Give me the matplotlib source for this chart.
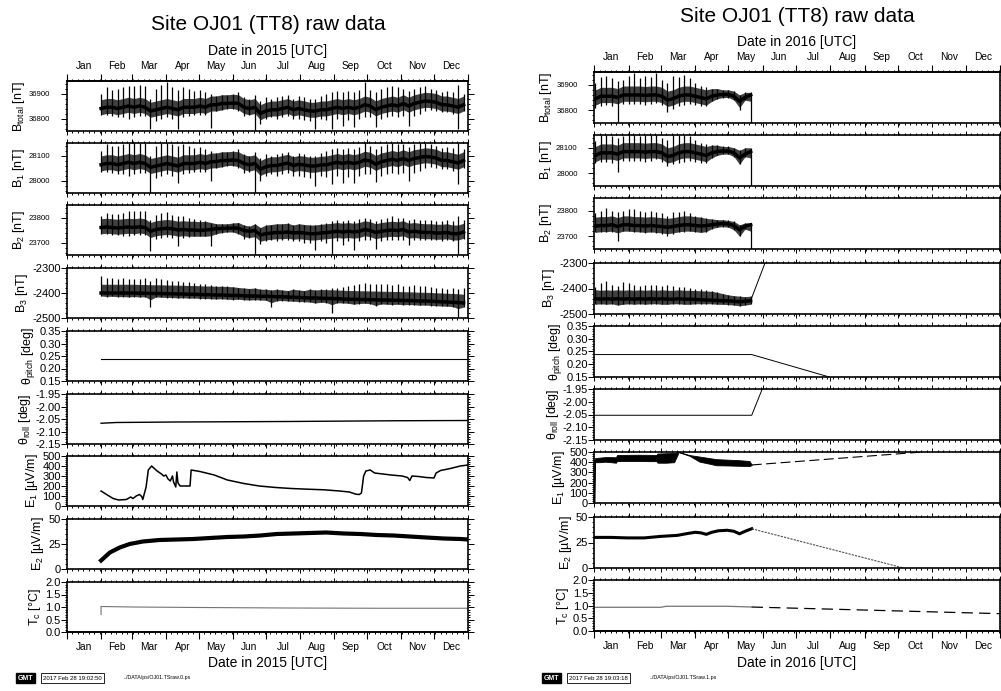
import numpy as np
import matplotlib
matplotlib.use('Agg')
import matplotlib.pyplot as plt
from matplotlib.ticker import MultipleLocator, FixedLocator, FormatStrFormatter

plt.rcParams['font.family'] = ['Liberation Sans', 'DejaVu Sans']
plt.rcParams['mathtext.default'] = 'regular'
plt.rcParams['axes.linewidth'] = 1.2

# ---------------- data: 2015 (day of year, Jan 1 = 0) ----------------
days15 = np.arange(31, 362, 5)

btot15_mid = [36840, 36845, 36845, 36840, 36845, 36850, 36845, 36850, 36845, 36830,
              36835, 36840, 36845, 36840, 36835, 36845, 36845, 36845, 36850, 36845,
              36855, 36855, 36860, 36860, 36862, 36860, 36845, 36840, 36845, 36820,
              36830, 36835, 36835, 36840, 36845, 36835, 36840, 36835, 36830, 36830,
              36835, 36835, 36840, 36845, 36840, 36845, 36840, 36845, 36855, 36850,
              36835, 36845, 36850, 36855, 36850, 36860, 36850, 36860, 36865, 36870,
              36868, 36865, 36855, 36855, 36850, 36845, 36855]
btot15_top = [36900, 36925, 36915, 36920, 36925, 36930, 36930, 36935, 36930, 36880,
              36920, 36935, 36945, 36925, 36915, 36925, 36920, 36910, 36915, 36905,
              36900, 36890, 36895, 36895, 36900, 36905, 36885, 36880, 36895, 36870,
              36885, 36880, 36885, 36890, 36895, 36880, 36890, 36885, 36880, 36880,
              36890, 36900, 36905, 36910, 36905, 36910, 36905, 36915, 36945, 36915,
              36905, 36920, 36925, 36930, 36925, 36920, 36910, 36920, 36925, 36930,
              36920, 36915, 36905, 36910, 36905, 36935, 36900]
btot15_bot = [36815, 36815, 36810, 36805, 36805, 36800, 36805, 36810, 36810, 36760,
              36790, 36800, 36805, 36800, 36760, 36805, 36810, 36815, 36815, 36815,
              36762, 36830, 36835, 36840, 36840, 36830, 36810, 36815, 36755, 36780,
              36800, 36805, 36800, 36805, 36810, 36800, 36800, 36795, 36790, 36760,
              36800, 36795, 36760, 36800, 36770, 36795, 36765, 36800, 36805, 36805,
              36765, 36800, 36805, 36810, 36805, 36810, 36770, 36810, 36820, 36830,
              36835, 36830, 36825, 36825, 36820, 36760, 36830]

b1_15_mid = [28063, 28068, 28068, 28063, 28068, 28073, 28068, 28073, 28068, 28053,
             28058, 28063, 28068, 28063, 28058, 28068, 28068, 28068, 28073, 28068,
             28075, 28076, 28080, 28080, 28082, 28080, 28068, 28063, 28068, 28045,
             28055, 28060, 28060, 28065, 28070, 28060, 28065, 28062, 28058, 28058,
             28062, 28063, 28068, 28073, 28068, 28073, 28068, 28073, 28082, 28078,
             28065, 28075, 28080, 28085, 28080, 28088, 28080, 28088, 28092, 28096,
             28094, 28090, 28080, 28080, 28075, 28070, 28080]
b1_15_top = [28120, 28145, 28140, 28140, 28145, 28150, 28150, 28150, 28150, 28100,
             28140, 28150, 28150, 28145, 28140, 28145, 28140, 28130, 28135, 28125,
             28120, 28110, 28115, 28115, 28120, 28125, 28105, 28100, 28115, 28090,
             28105, 28100, 28105, 28110, 28115, 28100, 28110, 28105, 28100, 28100,
             28110, 28120, 28125, 28130, 28125, 28130, 28125, 28135, 28150, 28140,
             28125, 28140, 28145, 28150, 28145, 28145, 28135, 28145, 28150, 28150,
             28145, 28140, 28130, 28135, 28130, 28150, 28125]
b1_15_bot = [28035, 28035, 28030, 28025, 28025, 28020, 28025, 28030, 28030, 27950,
             28010, 28020, 28025, 28020, 27990, 28025, 28030, 28035, 28035, 28035,
             28000, 28050, 28055, 28060, 28060, 28050, 28030, 28035, 27950, 28000,
             28020, 28025, 28020, 28025, 28030, 28020, 28020, 28015, 28010, 27980,
             28020, 28015, 27985, 28020, 27990, 28015, 27990, 28020, 28025, 28025,
             27995, 28020, 28025, 28030, 28025, 28030, 28000, 28030, 28040, 28050,
             28055, 28050, 28045, 28045, 28040, 27985, 28050]

b2_15_mid = [23760, 23762, 23760, 23758, 23760, 23762, 23760, 23763, 23760, 23745,
             23752, 23755, 23757, 23755, 23750, 23752, 23750, 23750, 23748, 23750,
             23752, 23755, 23756, 23757, 23758, 23757, 23748, 23745, 23748, 23730,
             23735, 23738, 23740, 23740, 23742, 23738, 23740, 23738, 23735, 23735,
             23738, 23740, 23742, 23745, 23742, 23745, 23742, 23745, 23752, 23748,
             23740, 23745, 23748, 23750, 23748, 23752, 23742, 23745, 23742, 23740,
             23740, 23738, 23738, 23740, 23735, 23735, 23742]
b2_15_top = [23805, 23820, 23815, 23815, 23820, 23825, 23825, 23828, 23825, 23790,
             23810, 23820, 23822, 23810, 23805, 23805, 23800, 23795, 23790, 23785,
             23780, 23775, 23775, 23775, 23778, 23780, 23770, 23765, 23775, 23760,
             23770, 23772, 23775, 23775, 23778, 23770, 23775, 23772, 23770, 23770,
             23775, 23780, 23785, 23790, 23785, 23790, 23785, 23795, 23800, 23795,
             23785, 23795, 23800, 23805, 23800, 23800, 23790, 23795, 23790, 23790,
             23790, 23785, 23785, 23790, 23785, 23805, 23790]
b2_15_bot = [23735, 23735, 23730, 23730, 23728, 23725, 23730, 23730, 23730, 23665,
             23715, 23720, 23722, 23720, 23685, 23720, 23722, 23725, 23725, 23725,
             23685, 23735, 23740, 23742, 23742, 23735, 23715, 23720, 23648, 23695,
             23705, 23710, 23708, 23710, 23712, 23705, 23705, 23700, 23700, 23670,
             23705, 23700, 23648, 23705, 23690, 23705, 23670, 23705, 23710, 23710,
             23675, 23705, 23710, 23712, 23710, 23712, 23690, 23712, 23712, 23712,
             23712, 23710, 23708, 23710, 23705, 23650, 23715]

b3_15_mid = [-2400, -2400, -2400, -2400, -2400, -2400, -2400, -2401, -2401, -2402,
             -2402, -2402, -2403, -2403, -2404, -2404, -2405, -2405, -2406, -2407,
             -2407, -2408, -2408, -2409, -2410, -2410, -2411, -2412, -2412, -2413,
             -2413, -2414, -2415, -2415, -2416, -2417, -2418, -2419, -2420, -2420,
             -2421, -2422, -2422, -2423, -2424, -2425, -2425, -2426, -2426, -2427,
             -2427, -2428, -2428, -2429, -2429, -2430, -2430, -2431, -2432, -2432,
             -2433, -2434, -2435, -2436, -2437, -2438, -2440]
b3_15_top = [-2330, -2340, -2338, -2342, -2340, -2345, -2342, -2345, -2340, -2350,
             -2340, -2345, -2348, -2350, -2352, -2355, -2355, -2360, -2362, -2365,
             -2368, -2370, -2372, -2372, -2375, -2378, -2380, -2382, -2380, -2385,
             -2385, -2388, -2385, -2388, -2390, -2385, -2388, -2390, -2385, -2388,
             -2385, -2382, -2380, -2378, -2375, -2370, -2368, -2365, -2360, -2362,
             -2365, -2362, -2365, -2368, -2365, -2370, -2372, -2368, -2370, -2372,
             -2375, -2378, -2380, -2382, -2380, -2385, -2380]
b3_15_bot = [-2412, -2414, -2413, -2415, -2414, -2416, -2414, -2416, -2415, -2455,
             -2416, -2417, -2418, -2418, -2420, -2419, -2421, -2420, -2422, -2422,
             -2423, -2424, -2423, -2425, -2426, -2425, -2427, -2428, -2427, -2428,
             -2429, -2455, -2431, -2430, -2432, -2433, -2434, -2435, -2436, -2440,
             -2437, -2438, -2480, -2439, -2440, -2441, -2445, -2442, -2441, -2443,
             -2450, -2444, -2445, -2446, -2445, -2447, -2446, -2447, -2449, -2448,
             -2450, -2451, -2452, -2453, -2454, -2500, -2456]

pitch15_days = [31, 365]
pitch15 = [0.238, 0.238]
roll15_days = [31, 45, 100, 200, 300, 365]
roll15 = [-2.067, -2.064, -2.062, -2.060, -2.057, -2.056]

e1_15_days = [31, 36, 42, 47, 54, 58, 60, 63, 66, 68, 69, 72, 74, 77, 80, 82, 86, 88, 90, 92,
              94, 96, 97, 99, 100, 101, 103, 108, 112, 113, 121, 134, 146, 161, 175, 190, 204,
              219, 234, 248, 257, 263, 266, 268, 270, 272, 276, 280, 295, 305, 310, 312, 314,
              320, 327, 334, 336, 340, 349, 358, 365]
e1_15 = [150, 115, 75, 60, 65, 90, 75, 100, 115, 95, 65, 190, 360, 400, 370, 350, 320, 300, 310, 270,
         250, 300, 240, 190, 340, 230, 200, 200, 200, 360, 345, 310, 260, 225, 200, 185, 175,
         168, 162, 150, 140, 118, 115, 130, 300, 350, 360, 330, 310, 300, 285, 255, 300,
         295, 285, 280, 330, 355, 375, 400, 410]

e2_15_days = [31, 39, 48, 57, 69, 84, 100, 115, 130, 146, 161, 176, 191, 206, 221, 236, 252,
              267, 282, 297, 312, 327, 343, 358, 365]
e2_15 = [8.5, 16.5, 21.5, 25, 27.5, 29, 29.5, 30, 31, 32, 32.5, 33.5, 35, 35.5, 36, 36.5, 35.5,
         35, 34, 33.5, 32.5, 31.5, 30.5, 30, 29.5]

tc15_days = [31, 31, 60, 120, 200, 280, 365]
tc15 = [0.7, 1.02, 1.0, 0.98, 0.96, 0.95, 0.95]

# ---------------- data: 2016 ----------------
days16 = np.arange(1, 142, 5)

btot16_mid = [36845, 36855, 36855, 36855, 36850, 36860, 36860, 36860, 36860, 36858, 36860, 36860,
              36855, 36840, 36845, 36855, 36860, 36860, 36855, 36850, 36845, 36855, 36860, 36862,
              36862, 36855, 36835, 36850, 36860]
btot16_top = [36905, 36930, 36935, 36925, 36915, 36920, 36935, 36945, 36925, 36935, 36930, 36945,
              36920, 36905, 36935, 36930, 36940, 36925, 36905, 36895, 36890, 36885, 36885, 36880,
              36880, 36875, 36860, 36870, 36870]
btot16_bot = [36810, 36815, 36820, 36815, 36755, 36825, 36825, 36825, 36825, 36820, 36825, 36830,
              36820, 36795, 36805, 36815, 36820, 36825, 36820, 36815, 36815, 36835, 36845, 36850,
              36850, 36840, 36800, 36840, 36700]

b1_16_mid = [28070, 28080, 28080, 28080, 28075, 28085, 28085, 28085, 28085, 28083, 28085, 28085,
             28080, 28065, 28070, 28080, 28085, 28085, 28080, 28075, 28070, 28080, 28085, 28087,
             28087, 28080, 28060, 28075, 28085]
b1_16_top = [28125, 28150, 28150, 28145, 28140, 28145, 28150, 28150, 28145, 28150, 28150, 28150,
             28140, 28130, 28150, 28150, 28150, 28145, 28130, 28120, 28115, 28110, 28110, 28105,
             28105, 28100, 28090, 28100, 28100]
b1_16_bot = [28040, 28045, 28045, 28040, 28005, 28050, 28050, 28050, 28050, 28045, 28050, 28055,
             28045, 28030, 28035, 28040, 28045, 28050, 28045, 28040, 28040, 28060, 28070, 28075,
             28075, 28065, 28035, 28065, 27900]

b2_16_mid = [23740, 23742, 23742, 23745, 23738, 23745, 23745, 23742, 23742, 23740, 23742, 23740,
             23738, 23735, 23738, 23742, 23745, 23745, 23742, 23740, 23742, 23745, 23748, 23750,
             23748, 23742, 23725, 23740, 23745]
b2_16_top = [23790, 23800, 23810, 23800, 23795, 23800, 23808, 23805, 23800, 23795, 23800, 23795,
             23790, 23780, 23795, 23795, 23800, 23790, 23780, 23775, 23770, 23768, 23765, 23765,
             23762, 23758, 23745, 23752, 23752]
b2_16_bot = [23715, 23718, 23718, 23715, 23680, 23720, 23720, 23718, 23715, 23712, 23715, 23712,
             23710, 23700, 23710, 23715, 23718, 23720, 23718, 23715, 23718, 23730, 23735, 23738,
             23735, 23725, 23700, 23728, 23600]

b3_16_mid = [-2440, -2442, -2440, -2442, -2440, -2442, -2440, -2442, -2440, -2442, -2440, -2442,
             -2440, -2442, -2442, -2440, -2442, -2442, -2443, -2444, -2445, -2446, -2447, -2448,
             -2448, -2450, -2452, -2450, -2448]
b3_16_top = [-2395, -2380, -2370, -2385, -2390, -2375, -2380, -2385, -2390, -2388, -2385, -2388,
             -2390, -2385, -2390, -2395, -2395, -2398, -2400, -2402, -2405, -2410, -2415, -2420,
             -2425, -2428, -2430, -2432, -2430]
b3_16_bot = [-2462, -2460, -2462, -2460, -2465, -2462, -2460, -2462, -2460, -2462, -2460, -2460,
             -2462, -2462, -2460, -2460, -2462, -2462, -2460, -2460, -2460, -2460, -2462, -2462,
             -2463, -2465, -2468, -2465, -2462]
b3_16_post_days = [141, 154]
b3_16_post = [-2448, -2300]

pitch16_days = [0, 142, 212]
pitch16 = [0.238, 0.238, 0.150]
roll16_days = [0, 142, 151.5]
roll16 = [-2.053, -2.053, -1.95]

e1_16_days = [0, 0.6, 5, 10, 15, 19.5, 20.5, 30, 40, 50, 56, 57, 65, 72, 75, 76, 86, 95, 104,
              110, 120, 130, 140, 142]
e1_16_lo = [0, 400, 400, 405, 400, 395, 412, 412, 412, 410, 410, 395, 395, 400, 470, 500, 462,
            405, 385, 370, 368, 365, 362, 372]
e1_16_hi = [420, 440, 445, 450, 450, 448, 470, 472, 473, 472, 470, 485, 488, 490, 498, 500, 470,
            455, 440, 430, 425, 420, 412, 375]
e1_16_post_days = [142, 296]
e1_16_post = [373, 500]

e2_16_days = [1, 15, 30, 45, 60, 75, 85, 91, 96, 101, 106, 112, 120, 126, 131, 136, 142]
e2_16 = [30, 30, 29.5, 29.5, 31, 32, 34, 35, 34.5, 33, 35, 36.5, 37, 36, 33.5, 36, 38.5]
e2_16_post_days = [142, 279]
e2_16_post = [38.5, 0]

tc16_days = [1, 60, 65, 120, 135, 142]
tc16 = [0.93, 0.93, 0.97, 0.97, 0.95, 0.94]
tc16_post_days = [142, 366]
tc16_post = [0.94, 0.68]

months = ['Jan', 'Feb', 'Mar', 'Apr', 'May', 'Jun', 'Jul', 'Aug', 'Sep', 'Oct', 'Nov', 'Dec']
mstart15 = [0, 31, 59, 90, 120, 151, 181, 212, 243, 273, 304, 334, 365]
mstart16 = [0, 31, 60, 91, 121, 152, 182, 213, 244, 274, 305, 335, 366]

ylabels = [r'B$_{total}$ [nT]', r'B$_1$ [nT]', r'B$_2$ [nT]', r'B$_3$ [nT]',
           r'θ$_{pitch}$ [deg]', r'θ$_{roll}$ [deg]', r'E$_1$ [µV/m]', r'E$_2$ [µV/m]',
           r'T$_c$ [°C]']
ylims = [(36750, 36950), (27950, 28150), (23650, 23850), (-2500, -2300),
         (0.15, 0.35), (-2.15, -1.95), (0, 500), (0, 50), (0, 2)]
yticks = [[36800, 36900], [28000, 28100], [23700, 23800], [-2500, -2400, -2300],
          [0.15, 0.20, 0.25, 0.30, 0.35], [-2.15, -2.10, -2.05, -2.00, -1.95],
          [0, 100, 200, 300, 400, 500], [0, 25, 50], [0, 0.5, 1.0, 1.5, 2.0]]
yminor = [20, 20, 20, 20, 0.01, 0.01, 20, 5, 0.1]
yfmt = ['%d', '%d', '%d', '%d', '%.2f', '%.2f', '%d', '%d', '%.1f']

# ---------------- figure ----------------
W, H = 1001, 691
fig = plt.figure(figsize=(W / 100, H / 100), dpi=100)


def make_column(x0, x1, tops, h, mstart, ndays):
    axes = []
    for i, top in enumerate(tops):
        ax = fig.add_axes([x0 / W, 1 - (top + h) / H, (x1 - x0) / W, h / H])
        ax.set_xlim(0, ndays)
        ax.set_ylim(*ylims[i])
        ax.xaxis.set_major_locator(FixedLocator(mstart))
        ax.xaxis.set_minor_locator(MultipleLocator(5))
        ax.set_xticklabels([])
        ax.yaxis.set_major_locator(FixedLocator(yticks[i]))
        ax.yaxis.set_minor_locator(MultipleLocator(yminor[i]))
        ax.yaxis.set_major_formatter(FormatStrFormatter(yfmt[i]))
        ax.tick_params(which='both', direction='out', top=True, right=True, width=0.7)
        ax.tick_params(which='major', length=3)
        ax.tick_params(which='minor', length=1.5)
        ax.tick_params(axis='y', which='major', length=4)
        if i < 3:
            ax.tick_params(axis='y', labelsize=5.6, pad=8)
        else:
            ax.tick_params(axis='y', labelsize=8, pad=0.5)
        ax.set_ylabel(ylabels[i], fontsize=9, labelpad=1.5)
        axes.append(ax)

    mids = [(a + b) / 2 for a, b in zip(mstart[:-1], mstart[1:])]
    for ax, side, off in [(axes[0], 'top', 10.8), (axes[-1], 'bottom', -10.5)]:
        sec = ax.secondary_xaxis(side)
        sec.set_xticks(mstart)
        sec.set_xticklabels([])
        sec.tick_params(direction='out', length=5, width=0.8)
        yy = 1 if side == 'top' else 0
        for m, name in zip(mids, months):
            ax.annotate(name, xy=(m, yy), xycoords=('data', 'axes fraction'),
                        xytext=(0, off), textcoords='offset points',
                        ha='center', va='center', fontsize=7.3)
    return axes


def noisy(ax, d, mid, top, bot):
    mid = np.asarray(mid, float)
    # dense core of the trace, then the individual spikes
    core_lo = np.maximum(bot, mid - 25)
    core_hi = np.minimum(top, mid + 35)
    ax.fill_between(d, core_lo, core_hi, color='0.25', lw=0)
    ax.vlines(d, bot, top, color='k', lw=0.9)
    ax.plot(d, mid, color='k', lw=2.5)


# left column (2015)
L = make_column(67, 468, [81, 143, 205, 268, 331, 394, 456, 519, 582], 50, mstart15, 365)
noisy(L[0], days15, btot15_mid, btot15_top, btot15_bot)
noisy(L[1], days15, b1_15_mid, b1_15_top, b1_15_bot)
noisy(L[2], days15, b2_15_mid, b2_15_top, b2_15_bot)
noisy(L[3], days15, b3_15_mid, b3_15_top, b3_15_bot)
L[4].plot(pitch15_days, pitch15, color='k', lw=0.8)
L[5].plot(roll15_days, roll15, color='k', lw=1.0)
L[6].plot(e1_15_days, e1_15, color='k', lw=1.1)
L[7].plot(e2_15_days, e2_15, color='k', lw=3)
L[8].plot(tc15_days, tc15, color='0.45', lw=0.8)

# right column (2016)
R = make_column(594.3, 1000, [72, 135, 198, 263, 326, 389, 452, 517, 580], 51, mstart16, 366)
noisy(R[0], days16, btot16_mid, btot16_top, btot16_bot)
noisy(R[1], days16, b1_16_mid, b1_16_top, b1_16_bot)
noisy(R[2], days16, b2_16_mid, b2_16_top, b2_16_bot)
noisy(R[3], days16, b3_16_mid, b3_16_top, b3_16_bot)
R[3].plot(b3_16_post_days, b3_16_post, color='k', lw=0.7)
R[4].plot(pitch16_days, pitch16, color='k', lw=0.7)
R[5].plot(roll16_days, roll16, color='k', lw=0.7)
R[6].fill_between(e1_16_days, e1_16_lo, e1_16_hi, color='k', lw=0.6)
R[6].plot(e1_16_post_days, e1_16_post, color='k', lw=0.8, linestyle=(0, (9, 4)))
R[7].plot(e2_16_days, e2_16, color='k', lw=2.2)
R[7].plot(e2_16_post_days, e2_16_post, color='0.3', lw=0.8, linestyle=(0, (2, 1)))
R[8].plot(tc16_days, tc16, color='0.45', lw=0.9)
R[8].plot(tc16_post_days, tc16_post, color='k', lw=0.9, linestyle=(0, (9, 5)))

# titles and axis captions
for cx, ty, dy, year in [(268, 25, 51, 2015), (797, 17, 42, 2016)]:
    fig.text(cx / W, 1 - ty / H, 'Site OJ01 (TT8) raw data', ha='center', va='center', fontsize=15)
    fig.text(cx / W, 1 - dy / H, f'Date in {year} [UTC]', ha='center', va='center', fontsize=10)
    fig.text(cx / W, 1 - 663 / H, f'Date in {year} [UTC]', ha='center', va='center', fontsize=10)

# GMT footer stamps
for gx, stamp, path in [(18, '2017 Feb 28 19:02:50', '../DATA/ps/OJ01.TSraw.0.ps'),
                        (544, '2017 Feb 28 19:03:18', '../DATA/ps/OJ01.TSraw.1.ps')]:
    fig.text(gx / W, 1 - 678 / H, 'GMT', ha='left', va='center', fontsize=5, color='white',
             fontweight='bold', bbox=dict(boxstyle='square,pad=0.25', fc='black', ec='black'))
    fig.text((gx + 25) / W, 1 - 678 / H, stamp, ha='left', va='center', fontsize=4.3,
             bbox=dict(boxstyle='square,pad=0.35', fc='white', ec='black', lw=0.6))
    fig.text((gx + 106) / W, 1 - 678 / H, path, ha='left', va='center', fontsize=3.8)

fig.savefig('out.png', dpi=100)
